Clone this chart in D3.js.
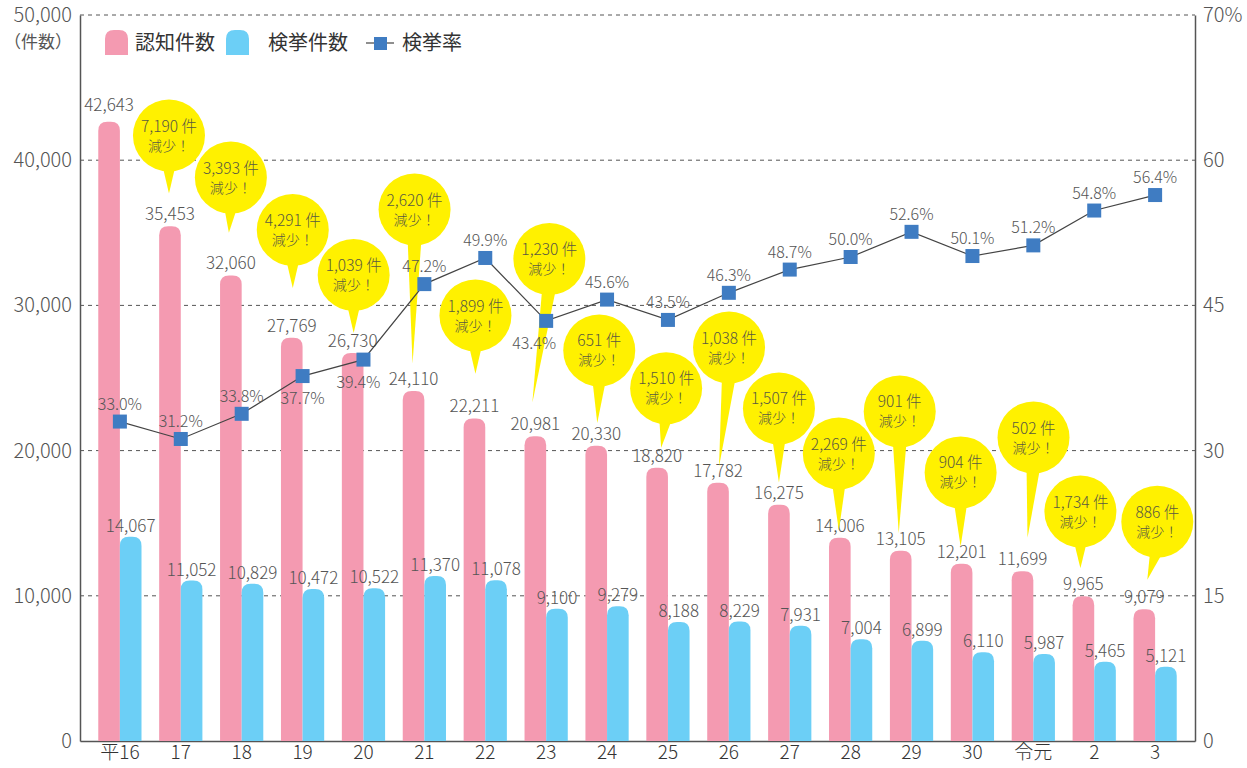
<!DOCTYPE html>
<html lang="ja">
<head>
<meta charset="utf-8">
<script src="https://cdn.jsdelivr.net/npm/d3@7"></script>
<style>
  body { margin: 0; background: #fff; }
  svg { display: block; font-family: "Noto Sans CJK JP", "Noto Sans", sans-serif; }
</style>
</head>
<body>
<div id="chart"></div>
<script>
// 年次（平成16年～令和3年）
const years = ["平16", "17", "18", "19", "20", "21", "22", "23", "24", "25", "26", "27", "28", "29", "30", "令元", "2", "3"];
// 認知件数
const ninchi = [42643, 35453, 32060, 27769, 26730, 24110, 22211, 20981, 20330, 18820, 17782, 16275, 14006, 13105, 12201, 11699, 9965, 9079];
// 検挙件数
const kenkyo = [14067, 11052, 10829, 10472, 10522, 11370, 11078, 9100, 9279, 8188, 8229, 7931, 7004, 6899, 6110, 5987, 5465, 5121];
// 検挙率（％）
const rate = [33.0, 31.2, 33.8, 37.7, 39.4, 47.2, 49.9, 43.4, 45.6, 43.5, 46.3, 48.7, 50.0, 52.6, 50.1, 51.2, 54.8, 56.4];
// 前年からの減少件数（17年以降）
const decrease = [7190, 3393, 4291, 1039, 2620, 1899, 1230, 651, 1510, 1038, 1507, 2269, 901, 904, 502, 1734, 886];
// 目盛り
const leftTicks = [0, 10000, 20000, 30000, 40000, 50000];
const rightTicks = [0, 15, 30, 45, 60, 75];
const rightTickLabels = ["0", "15", "30", "45", "60", "70%"];

// 吹き出しの置き場所（件数スケール上の中心・先端、横ずれpx）
const bubbleCy  = [41700, 38800, 35200, 32100, 36600, 29300, 33200, 26900, 24300, 27100, 22900, 19800, 22700, 18500, 20900, 15800, 15100];
const bubbleTip = [37700, 35000, 31200, 28100, 26000, 25300, 23300, 21900, 20200, 18900, 17800, 14500, 14300, 13400, 14000, 11900, 11100];
const bubbleDx  = [-1, 0, 1, 1, 1, 1, 14, 3, 9, 11, 0, -1, -1, -1, 11, -3, 13];
const tipDx     = [-1, -2, 1, 1, -1, 1, -3, 1, 4, 1, 0, -1, -2, -1, 5, -3, 3];
// 検挙率ラベルを下に置く年
const rateBelow = ["19", "20", "23"];

const W = 1247, H = 768;
const mLeft = 80, mRight = 1195, mTop = 15, mBottom = 741;

const svg = d3.select('#chart').append('svg')
    .attr('width', W).attr('height', H);

const x = d3.scaleBand().domain(years).range([mLeft, mRight])
    .paddingInner(0.29).paddingOuter(0.30);
const sub = d3.scaleBand().domain(['n', 'k']).range([0, x.bandwidth()]);
const y = d3.scaleLinear().domain([0, 50000]).range([mBottom, mTop]);
const yr = d3.scaleLinear().domain([0, 75]).range([mBottom, mTop]);

const textCol = '#555';

// 破線の目盛り線
svg.append('g').selectAll('line')
    .data(leftTicks.filter(d => d > 0))
    .join('line')
    .attr('x1', mLeft).attr('x2', mRight)
    .attr('y1', d => y(d)).attr('y2', d => y(d))
    .attr('stroke', '#555').attr('stroke-width', 1)
    .attr('stroke-dasharray', '4,4');

// 左軸
const yAxis = d3.axisLeft(y).tickValues(leftTicks).tickSize(0).tickPadding(8)
    .tickFormat(d3.format(','));
const gy = svg.append('g').attr('transform', `translate(${mLeft},0)`).call(yAxis);
gy.select('.domain').attr('stroke', '#555').attr('stroke-width', 1.5);
gy.selectAll('text').attr('font-size', 20).attr('fill', textCol)
    .attr('font-family', '"Noto Sans CJK JP", sans-serif').attr('font-weight', 300);
svg.append('text').attr('x', 72).attr('y', 48).attr('text-anchor', 'end')
    .attr('font-size', 17).attr('fill', textCol).text('（件数）');

// 右軸
const yrAxis = d3.axisRight(yr).tickValues(rightTicks).tickSize(0).tickPadding(8)
    .tickFormat((d, i) => rightTickLabels[i]);
const gr = svg.append('g').attr('transform', `translate(${mRight},0)`).call(yrAxis);
gr.select('.domain').attr('stroke', '#555').attr('stroke-width', 1.5);
gr.selectAll('text').attr('font-size', 20).attr('fill', textCol)
    .attr('font-family', '"Noto Sans CJK JP", sans-serif').attr('font-weight', 300);

// 下の軸
const xAxis = d3.axisBottom(x).tickSize(0).tickPadding(5);
const gx = svg.append('g').attr('transform', `translate(0,${mBottom})`).call(xAxis);
gx.select('.domain').attr('stroke', '#555').attr('stroke-width', 1.5);
gx.selectAll('text').attr('font-size', 19).attr('fill', '#333')
    .attr('font-family', '"Noto Sans CJK JP", sans-serif').attr('font-weight', 300)
    .attr('dy', '0.7em');

// 上が丸い棒
function roundBar(x0, w, yTop, yBot) {
    const r = Math.min(9, w / 2, (yBot - yTop));
    return `M${x0},${yBot}L${x0},${yTop + r}Q${x0},${yTop} ${x0 + r},${yTop}` +
        `L${x0 + w - r},${yTop}Q${x0 + w},${yTop} ${x0 + w},${yTop + r}L${x0 + w},${yBot}Z`;
}

const pink = '#F49AB1', blue = '#6CCFF6';

svg.append('g').selectAll('path')
    .data(years)
    .join('path')
    .attr('d', (d, i) => roundBar(x(d) + sub('n'), sub.bandwidth(), y(ninchi[i]), mBottom))
    .attr('fill', pink);

svg.append('g').selectAll('path')
    .data(years)
    .join('path')
    .attr('d', (d, i) => roundBar(x(d) + sub('k'), sub.bandwidth(), y(kenkyo[i]), mBottom))
    .attr('fill', blue);

// 数値ラベル
const fmt = d3.format(',');
svg.append('g').selectAll('text')
    .data(years)
    .join('text')
    .attr('x', d => x(d) + sub('n') + sub.bandwidth() / 2)
    .attr('y', (d, i) => y(ninchi[i]) - (i === 0 ? 11 : 6))
    .attr('text-anchor', 'middle')
    .attr('font-size', 17).attr('font-weight', 300).attr('fill', textCol)
    .text((d, i) => fmt(ninchi[i]));

svg.append('g').selectAll('text')
    .data(years)
    .join('text')
    .attr('x', d => x(d) + sub('k') + sub.bandwidth() / 2)
    .attr('y', (d, i) => y(kenkyo[i]) - 5)
    .attr('text-anchor', 'middle')
    .attr('font-size', 17).attr('font-weight', 300).attr('fill', textCol)
    .text((d, i) => fmt(kenkyo[i]));

// 吹き出し（減少件数）
const bubbleYears = years.slice(1);
const R = 36;
const gb = svg.append('g').selectAll('g')
    .data(bubbleYears)
    .join('g')
    .attr('transform', (d, i) => {
        const cx = x(d) + sub('n') + sub.bandwidth() / 2 + bubbleDx[i];
        return `translate(${cx},${y(bubbleCy[i])})`;
    });

gb.append('path')
    .attr('d', (d, i) => {
        const cy = y(bubbleCy[i]);
        const tx = tipDx[i] - bubbleDx[i];
        const ty = y(bubbleTip[i]) - cy;
        return `M-7,${R - 8}L7,${R - 8}L${tx},${ty}Z`;
    })
    .attr('fill', '#FFF100');

gb.append('circle').attr('r', R).attr('fill', '#FFF100');

gb.append('text')
    .attr('y', -4).attr('text-anchor', 'middle')
    .attr('font-size', 15.5).attr('font-weight', 300).attr('fill', '#5a5a40')
    .text((d, i) => fmt(decrease[i]) + ' 件');

gb.append('text')
    .attr('y', 15).attr('text-anchor', 'middle')
    .attr('font-size', 14).attr('font-weight', 300).attr('fill', '#5a5a40')
    .text('減少！');

// 検挙率の折れ線
const line = d3.line()
    .x((d, i) => x(years[i]) + x.bandwidth() / 2)
    .y(d => yr(d));

svg.append('path')
    .datum(rate)
    .attr('d', line)
    .attr('fill', 'none')
    .attr('stroke', '#444')
    .attr('stroke-width', 1.2);

svg.append('g').selectAll('rect')
    .data(rate)
    .join('rect')
    .attr('x', (d, i) => x(years[i]) + x.bandwidth() / 2 - 7)
    .attr('y', d => yr(d) - 7)
    .attr('width', 14).attr('height', 14)
    .attr('fill', '#3F7CC2');

svg.append('g').selectAll('text')
    .data(rate)
    .join('text')
    .attr('x', (d, i) => x(years[i]) + x.bandwidth() / 2 + (years[i] === '23' ? -12 : years[i] === '20' ? -5 : 0))
    .attr('y', (d, i) => rateBelow.includes(years[i]) ? yr(d) + 28 : yr(d) - 12)
    .attr('text-anchor', 'middle')
    .attr('font-size', 16).attr('font-weight', 300).attr('fill', textCol)
    .text(d => d.toFixed(1) + '%');

// 凡例
const lg = svg.append('g');
lg.append('path').attr('d', roundBar(105, 23, 30, 55)).attr('fill', pink);
lg.append('text').attr('x', 135).attr('y', 50).attr('font-size', 20).attr('fill', '#333').text('認知件数');
lg.append('path').attr('d', roundBar(226, 23, 30, 55)).attr('fill', blue);
lg.append('text').attr('x', 268).attr('y', 50).attr('font-size', 20).attr('fill', '#333').text('検挙件数');
lg.append('line').attr('x1', 366).attr('x2', 394).attr('y1', 43).attr('y2', 43)
    .attr('stroke', '#444').attr('stroke-width', 1.2);
lg.append('rect').attr('x', 374).attr('y', 37).attr('width', 13).attr('height', 13).attr('fill', '#3F7CC2');
lg.append('text').attr('x', 402).attr('y', 50).attr('font-size', 20).attr('fill', '#333').text('検挙率');
</script>
</body>
</html>
